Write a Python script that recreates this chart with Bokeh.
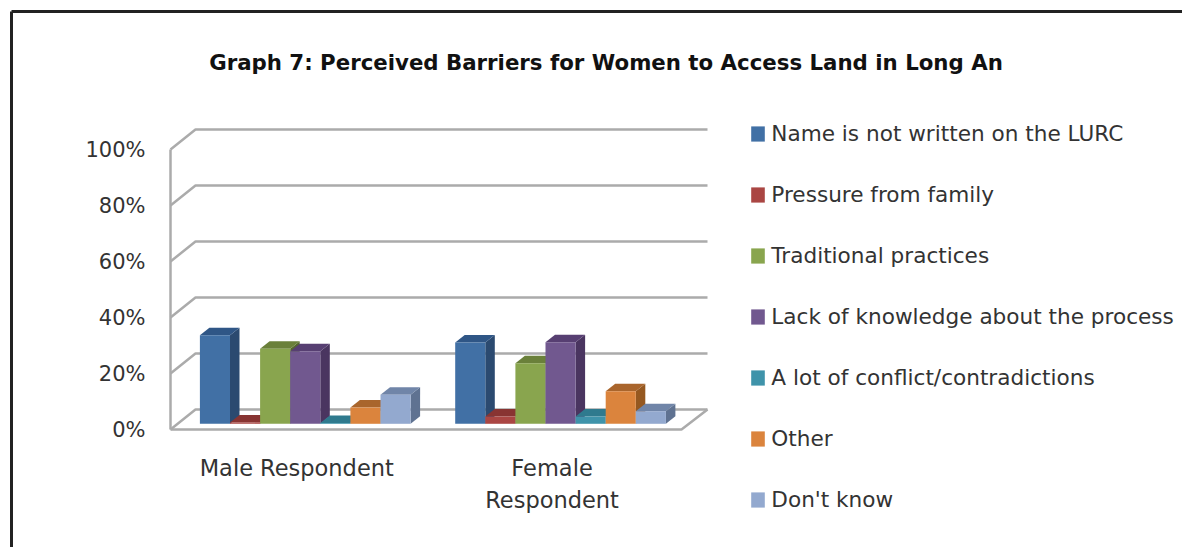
from bokeh.embed import file_html
from bokeh.resources import INLINE
from bokeh.plotting import figure
from bokeh.models import Range1d, LinearAxis, FixedTicker, Legend, LegendItem, Label

title = "Graph 7: Perceived Barriers for Women to Access Land in Long An"
categories = ["Male Respondent", "Female Respondent"]
category_lines = [["Male Respondent"], ["Female", "Respondent"]]
series = ["Name is not written on the LURC", "Pressure from family", "Traditional practices",
          "Lack of knowledge about the process", "A lot of conflict/contradictions", "Other", "Don't know"]
male = [31.6, 0.5, 26.8, 25.9, 0.3, 5.8, 10.4]
female = [29.0, 2.6, 21.6, 29.1, 2.6, 11.6, 4.5]
ticks = [0, 20, 40, 60, 80, 100]
tick_labels = ["0%", "20%", "40%", "60%", "80%", "100%"]
front = ["#4170A5", "#AA4643", "#89A54E", "#71588F", "#3F93AA", "#DB843D", "#93A9CF"]
top = ["#2F5686", "#883432", "#6A803A", "#573F72", "#2F7A8E", "#A9652C", "#7085A8"]
side = ["#2B4A70", "#6F2A28", "#55682E", "#4A3560", "#286B7C", "#955820", "#5F7291"]

FONT = "DejaVu Sans"
PX = 2.8          # px per percent
Y0 = 429          # picture y of front 0 %
W, H = 1182, 547
def py(v): return (Y0 - v) / PX   # picture pixel -> data y

p = figure(width=W, height=H, output_backend="svg", toolbar_location=None,
           x_range=Range1d(0, W), y_range=Range1d(py(H), py(0)),
           x_axis_location=None, y_axis_location=None, min_border=0,
           outline_line_color=None, background_fill_color="white", border_fill_color="white")
p.grid.visible = False

# outer frame
p.line([11, 11], [py(H), py(11)], line_color="#222222", line_width=3)
p.line([11, W], [py(11), py(11)], line_color="#222222", line_width=3)

# 3D walls
AX, BX, RX, FX = 170, 195, 707, 681
DY = 20 / PX
GRID = "#ABABAB"
for t in ticks:
    p.line([AX, BX, RX], [t, t + DY, t + DY], line_color=GRID, line_width=2.5)
p.line([AX, AX], [0, 100], line_color=GRID, line_width=2.5)
p.line([AX, FX, RX], [0, 0, DY], line_color=GRID, line_width=2.5)

# y axis
ax = LinearAxis(ticker=FixedTicker(ticks=ticks), fixed_location=AX,
                major_label_overrides={t: l for t, l in zip(ticks, tick_labels)})
ax.axis_line_color = None
ax.major_tick_line_color = None
ax.minor_tick_line_color = None
ax.major_tick_out = 0
ax.major_tick_in = 0
ax.major_label_standoff = 25
ax.major_label_text_font = FONT
ax.major_label_text_font_size = "21px"
ax.major_label_text_color = "#333333"
p.add_layout(ax, "left")

# bars
BW = 30.1
STARTS = [199.4, 454.7]
BASE = 5.7 / PX
DX, DP = 9.5, 7.5 / PX
items = []
for s, name in enumerate(series):
    rs = []
    for g, vals in enumerate([male, female]):
        x0 = STARTS[g] + s * BW
        x1 = x0 + BW
        y0, y1 = BASE, BASE + vals[s]
        p.patch([x1, x1 + DX, x1 + DX, x1], [y0, y0 + DP, y1 + DP, y1], fill_color=side[s], line_color=None)
        p.patch([x0, x1, x1 + DX, x0 + DX], [y1, y1, y1 + DP, y1 + DP], fill_color=top[s], line_color=None)
        r = p.patch([x0, x1, x1, x0], [y0, y0, y1, y1], fill_color=front[s], line_color=None)
        rs.append(r)
    items.append(LegendItem(label=name, renderers=[rs[0]]))

# category labels
for g, lines in enumerate(category_lines):
    cx = STARTS[g] + 3.5 * BW - 8.5
    for i, t in enumerate(lines):
        p.add_layout(Label(x=cx, y=py(467 + 32 * i), text=t, text_align="center", text_baseline="middle",
                           text_font=FONT, text_font_size="22.5px", text_color="#333333"))

# title
p.add_layout(Label(x=605.5, y=py(62), text=title, text_align="center", text_baseline="middle",
                   text_font=FONT, text_font_style="bold", text_font_size="21.3px", text_color="#111111"))

# legend
leg = Legend(items=items, location=(749.3, 35), orientation="vertical", padding=0, margin=0,
             glyph_width=17, glyph_height=19, label_standoff=5, spacing=36, label_height=25,
             background_fill_alpha=0, border_line_color=None,
             label_text_font=FONT, label_text_font_size="21.6px", label_text_color="#333333")
p.add_layout(leg, "center")

open("out.html", "w").write(file_html(p, INLINE))
